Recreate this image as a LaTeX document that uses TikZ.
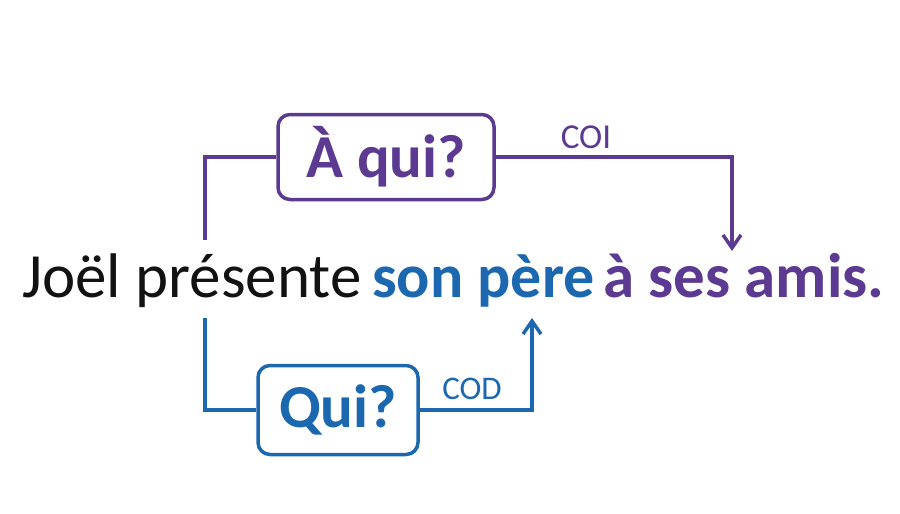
\documentclass[tikz,border=0pt]{standalone}
\usepackage{fontspec}
\setmainfont{Carlito}
\usetikzlibrary{arrows.meta,positioning}
\definecolor{coiviolet}{RGB}{92,58,145}
\definecolor{codblue}{RGB}{28,104,176}
\tikzset{
  phrase/.style={anchor=base west,inner sep=0pt,font=\fontsize{63}{65}\selectfont},
  question/.style={draw,line width=3.5pt,rounded corners=12pt,inner sep=0pt,font=\fontsize{61}{63}\selectfont\bfseries},
  link/.style={line width=3.5pt},
  tag/.style={inner sep=0pt,font=\fontsize{35}{36}\selectfont},
}
\begin{document}
\begin{tikzpicture}[x=1pt,y=-1pt]
\useasboundingbox (0,0) rectangle (900,514);
% la phrase
\node[phrase,text=black!93] (sujet) at (22,297) {Joël présente};
\node[phrase,text=codblue,font=\fontsize{62}{64}\selectfont\bfseries] (pere) at (372,297) {son père};
\node[phrase,text=coiviolet,font=\fontsize{63}{65}\selectfont\bfseries] (amis) at (603,297) {à ses amis.};

% les questions
\node[question,draw=coiviolet,text=coiviolet,minimum width=216pt,minimum height=85pt] (aqui) at (386,157) {À qui?};
\node[question,draw=codblue,text=codblue,minimum width=160pt,minimum height=89pt] (qui) at (338,410) {Qui?};

\coordinate (hautg) at (205,240);
\coordinate (basg) at (205,318);
\coordinate (coifin) at (732,251);
\coordinate (codfin) at (532,318);

\draw[link,coiviolet] (hautg) |- (aqui.west);
\draw[link,coiviolet,-{Straight Barb[length=13pt,width=18pt]}] (aqui.east) -| (coifin);
\draw[link,codblue] (basg) |- (qui.west);
\draw[link,codblue,-{Straight Barb[length=13pt,width=18pt]}] (qui.east) -| (codfin);

\node[tag,text=coiviolet,anchor=base] (coi) at (586,148) {COI};
\node[tag,text=codblue,anchor=base,font=\fontsize{33}{34}\selectfont] (cod) at (472,399) {COD};
\end{tikzpicture}
\end{document}
